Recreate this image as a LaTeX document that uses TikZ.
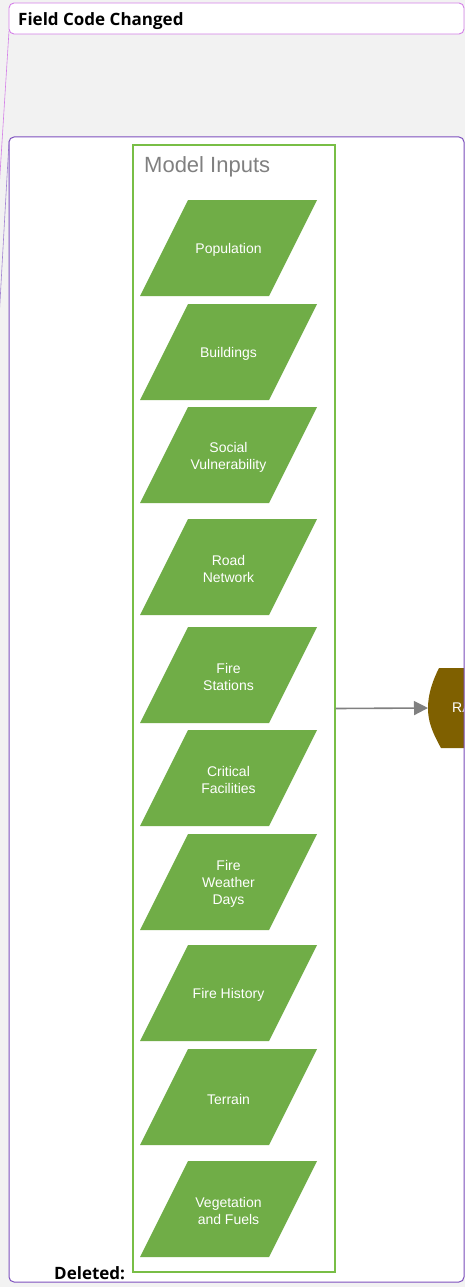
\documentclass[tikz,border=0pt]{standalone}
\usepackage{fontspec}
\setmainfont{Liberation Sans}
\newfontfamily\balloonfont{Open Sans}
\usetikzlibrary{arrows.meta}
\definecolor{pagegray}{RGB}{242,242,242}
\definecolor{inputgreen}{RGB}{112,173,71}
\definecolor{framegreen}{RGB}{120,190,70}
\definecolor{balloonpink}{RGB}{212,128,232}
\definecolor{balloonpurple}{RGB}{125,80,190}
\definecolor{rabrown}{RGB}{127,96,0}
\definecolor{arrowgray}{RGB}{128,128,128}
\begin{document}
\begin{tikzpicture}[x=1pt,y=-1pt,
    inputtext/.style={text=white,align=center,inner sep=0pt,font=\fontsize{14}{17}\selectfont},
    balloontext/.style={anchor=base west,inner sep=0pt,font=\balloonfont\bfseries\fontsize{17}{20}\selectfont},
    flowarrow/.style={draw=arrowgray,line width=1.6pt,-{Triangle[length=14pt,width=14pt]}}]
\useasboundingbox (0,0) rectangle (465,1287);
\clip (0,0) rectangle (465,1287);
\fill[pagegray] (0,0) rectangle (465,1287);
% leader lines of the balloons
\coordinate (fccfoot) at (9,31);
\coordinate (fccend) at (-1,190);
\coordinate (delfoot) at (9,141);
\coordinate (delend) at (-1,320);
\draw[balloonpink,line width=0.6pt] (fccfoot) -- (fccend);
\draw[balloonpurple!70,line width=0.6pt] (delfoot) -- (delend);
% balloons
\draw[balloonpink,fill=white,line width=0.9pt,rounded corners=5pt] (9,3) rectangle (464,34);
\node[balloontext] (fcc) at (18,26) {Field Code Changed};
\fill[white,rounded corners=5pt] (9,137) rectangle (464,1282);
% model inputs
\node[draw=framegreen,line width=1.4pt,minimum width=202pt,minimum height=1127pt,inner sep=0pt] (inputs) at (234,708.5) {};
\node[anchor=base west,inner sep=0pt,text=arrowgray,font=\fontsize{22}{26}\selectfont] (title) at (144,172) {Model Inputs};
\foreach \y/\lab [count=\i] in {248/Population,352/Buildings,455/Social\\Vulnerability,
    567/Road\\Network,675/Fire\\Stations,778/Critical\\Facilities,882/Fire\\Weather\\Days,
    993/Fire History,1097/Terrain,1209/Vegetation\\and Fuels}{
    \fill[inputgreen] (140,\y+48) -- (188,\y-48) -- (317,\y-48) -- (269,\y+48) -- cycle;
    \node[inputtext] (in\i) at (228.5,\y+2) {\lab};
}
% next step
\begin{scope}
\clip (0,0) rectangle (464,1287);
\fill[rabrown] (439,668) -- (470,668) -- (470,748) -- (441,748)
    .. controls (431,730) and (428,720) .. (428,708)
    .. controls (428,695) and (432,682) .. (439,668) -- cycle;
\node[anchor=west,inner sep=0pt,text=white,font=\fontsize{14}{17}\selectfont] (ra) at (452,708) {RA};
\end{scope}
\coordinate (raedge) at (428,708);
\draw[flowarrow] (inputs.east) -- (raedge);
\draw[balloonpurple,line width=1pt,rounded corners=5pt] (9,137) rectangle (464,1282);
\node[balloontext] (del) at (54,1279) {Deleted:};
\end{tikzpicture}
\end{document}
